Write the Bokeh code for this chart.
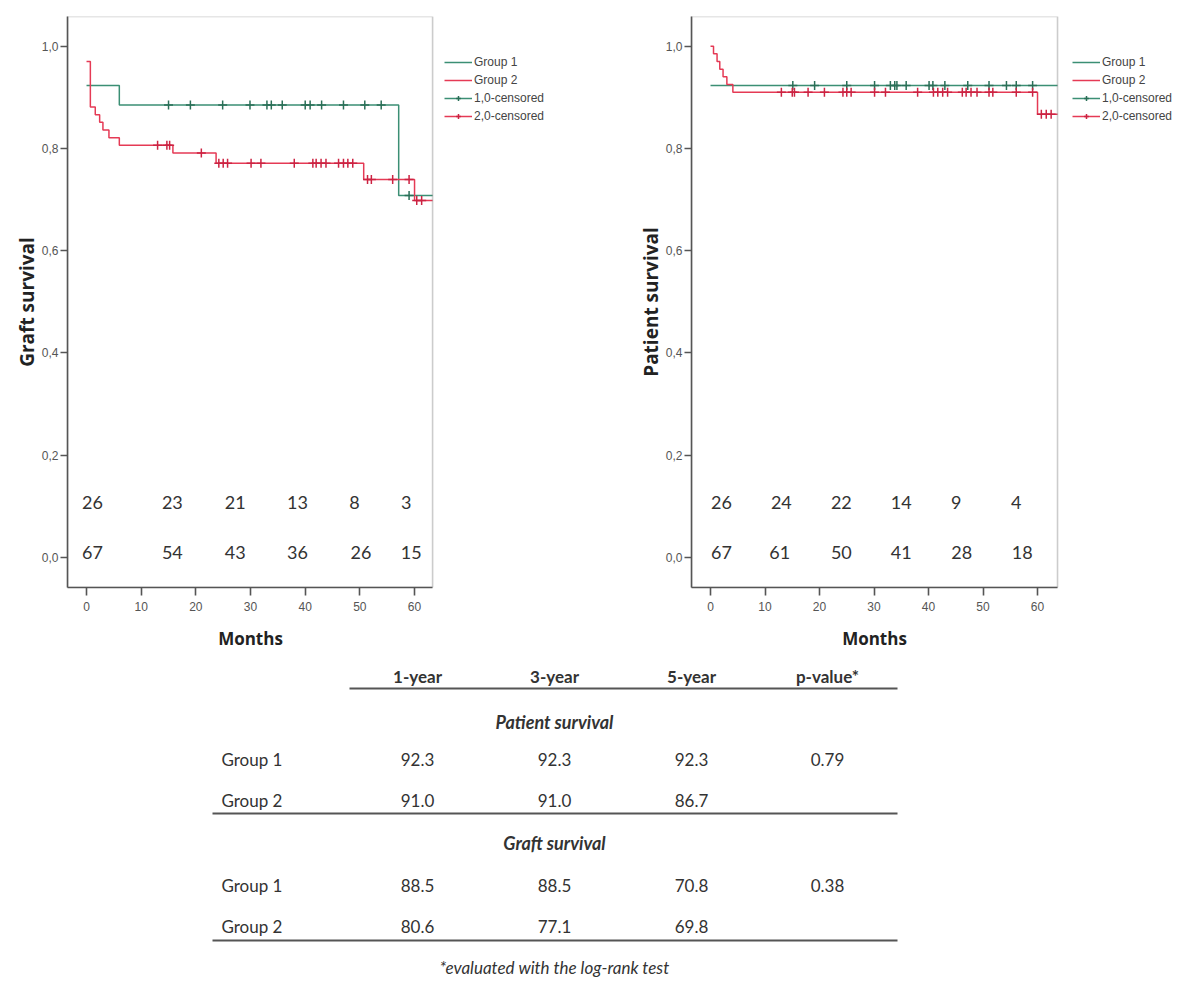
import numpy as np
from bokeh.plotting import figure
from bokeh.layouts import column, row
from bokeh.models import (Range1d, FixedTicker, CustomJSTickFormatter, Legend,
                          LegendItem, BoxAnnotation)
from bokeh.core.properties import value
from bokeh.embed import file_html
from bokeh.resources import INLINE

# ---------------- data ----------------
month_ticks = [0, 10, 20, 30, 40, 50, 60]
surv_ticks = [0.0, 0.2, 0.4, 0.6, 0.8, 1.0]
legend_labels = ["Group 1", "Group 2", "1,0-censored", "2,0-censored"]
x_title = "Months"

# Graft survival (Kaplan-Meier step points: time in months, survival)
graft_g1_t = [0.0, 6.0, 57.1, 64.0]
graft_g1_s = [0.923, 0.885, 0.708, 0.708]
graft_g1_cens = [15.0, 19.0, 24.9, 29.9, 33.0, 33.8, 35.8, 40.0, 40.9, 43.0,
                 47.0, 50.9, 53.9, 59.0]
graft_g2_t = [0.0, 0.7, 1.6, 2.4, 3.0, 4.1, 6.0, 15.8, 23.7, 50.7, 60.0, 64.0]
graft_g2_s = [0.970, 0.881, 0.866, 0.851, 0.836, 0.821, 0.806, 0.791, 0.771,
              0.739, 0.698, 0.698]
graft_g2_cens = [13.0, 14.7, 15.2, 21.0, 24.2, 25.0, 25.8, 30.1, 31.9, 38.0,
                 41.4, 42.0, 42.9, 43.8, 46.1, 47.0, 47.8, 48.7, 51.4, 52.1,
                 56.0, 59.0, 60.4, 61.3]
graft_risk_g1 = [26, 23, 21, 13, 8, 3]
graft_risk_g2 = [67, 54, 43, 36, 26, 15]

# Patient survival
pat_g1_t = [0.0, 64.0]
pat_g1_s = [0.923, 0.923]
pat_g1_cens = [15.1, 19.1, 25.0, 30.1, 33.0, 33.8, 34.2, 35.9, 40.1, 40.8,
               43.0, 47.2, 51.1, 54.3, 56.1, 59.1]
pat_g2_t = [0.0, 0.55, 1.2, 1.7, 2.3, 3.0, 4.1, 60.0, 64.0]
pat_g2_s = [1.0, 0.985, 0.970, 0.955, 0.940, 0.925, 0.910, 0.867, 0.867]
pat_g2_cens = [13.0, 15.0, 15.4, 17.9, 20.9, 24.3, 25.0, 25.8, 30.1, 32.1,
               38.0, 40.9, 41.7, 42.6, 43.5, 46.2, 46.9, 47.8, 48.9, 51.1,
               51.8, 56.1, 59.1, 60.7, 61.6, 62.5]
pat_risk_g1 = [26, 24, 22, 14, 9, 4]
pat_risk_g2 = [67, 61, 50, 41, 28, 18]

# Table
table_cols = ["1-year", "3-year", "5-year", "p-value*"]
row_labels = ["Group 1", "Group 2"]
patient_g1 = [92.3, 92.3, 92.3]
patient_g2 = [91.0, 91.0, 86.7]
patient_p = 0.79
graft_g1 = [88.5, 88.5, 70.8]
graft_g2 = [80.6, 77.1, 69.8]
graft_p = 0.38

# ---------------- styles ----------------
GREEN = "#3b8f74"
GREEN_M = "#2a6f57"
RED = "#e53a55"
RED_M = "#cc2342"
AX = "#555555"
TXT = "#333333"
Y0, Y1 = -0.059, 1.058
TOP_H = 620


def surv_at(ts, ss, c):
    idx = np.searchsorted(np.array(ts), np.array(c), side="right") - 1
    return list(np.array(ss)[idx])


def km_plot(width, bl, x0, x1, px_per_month, ylabel, g1t, g1s, g1c,
            g2t, g2s, g2c, r1, r2, pos1, pos2, leg_x):
    frame_w = width - bl
    xr_end = x0 + frame_w / px_per_month
    p = figure(width=width, height=TOP_H, x_range=Range1d(x0, xr_end),
               y_range=Range1d(Y0, Y1), output_backend="svg",
               toolbar_location=None, title=None,
               min_border_left=bl, min_border_right=0,
               min_border_top=16, min_border_bottom=TOP_H - 16 - 571)
    p.grid.visible = False
    p.outline_line_color = None
    p.background_fill_color = "white"
    p.border_fill_color = "white"

    p.add_layout(BoxAnnotation(left=x0, right=x1, bottom=Y0, top=Y1,
                               fill_color=None, fill_alpha=0,
                               line_color=AX, line_width=1.6))

    for ax in (p.xaxis[0], p.yaxis[0]):
        ax.axis_line_color = AX
        ax.axis_line_width = 1.6
        ax.major_tick_line_color = AX
        ax.major_tick_line_width = 1.6
        ax.minor_tick_line_color = None
        ax.major_tick_in = 0
        ax.major_label_text_font = "Liberation Sans"
        ax.major_label_text_font_size = "12px"
        ax.major_label_text_color = "#555555"

    p.xaxis.bounds = (x0, x1)
    p.xaxis.ticker = FixedTicker(ticks=month_ticks)
    p.xaxis.major_tick_out = 8
    p.xaxis.major_label_standoff = 6

    p.yaxis.ticker = FixedTicker(ticks=surv_ticks)
    p.yaxis.formatter = CustomJSTickFormatter(
        code="return tick.toFixed(1).replace('.', ',');")
    p.yaxis.major_tick_out = 7
    p.yaxis.major_label_standoff = 2
    p.yaxis.axis_label = ylabel
    p.yaxis.axis_label_text_font = "Open Sans"
    p.yaxis.axis_label_text_font_style = "bold"
    p.yaxis.axis_label_text_font_size = "19px"
    p.yaxis.axis_label_text_color = "#222222"
    p.yaxis.axis_label_standoff = -1

    def clip_t(ts):
        return [min(t, x1) for t in ts]

    l1 = p.step(clip_t(g1t), g1s, mode="after", line_color=GREEN, line_width=1.5)
    l2 = p.step(clip_t(g2t), g2s, mode="after", line_color=RED, line_width=1.5)
    c1 = p.scatter(g1c, surv_at(g1t, g1s, g1c), marker="cross", size=9,
                   line_color=GREEN_M, line_width=1.5)
    c2 = p.scatter(g2c, surv_at(g2t, g2s, g2c), marker="cross", size=9,
                   line_color=RED_M, line_width=1.5)

    p.text(x=pos1, y=[0.108] * len(r1), text=[str(v) for v in r1],
           text_align="center", text_baseline="middle",
           text_font=value("Lato"), text_font_size="18px", text_color=TXT)
    p.text(x=pos2, y=[0.010] * len(r2), text=[str(v) for v in r2],
           text_align="center", text_baseline="middle",
           text_font=value("Lato"), text_font_size="18px", text_color=TXT)

    legend = Legend(items=[
        LegendItem(label=legend_labels[0], renderers=[l1]),
        LegendItem(label=legend_labels[1], renderers=[l2]),
        LegendItem(label=legend_labels[2], renderers=[l1, c1]),
        LegendItem(label=legend_labels[3], renderers=[l2, c2]),
    ], location=(leg_x, 464))
    legend.label_text_font = "Liberation Sans"
    legend.label_text_font_size = "12px"
    legend.label_text_color = "#444444"
    legend.glyph_width = 28
    legend.glyph_height = 12
    legend.label_height = 12
    legend.label_standoff = 2
    legend.spacing = 4
    legend.padding = 0
    legend.margin = 0
    legend.border_line_alpha = 0
    legend.background_fill_alpha = 0
    p.add_layout(legend)
    return p


p1 = km_plot(629, 67, -3.48, 63.3, 5.467, "Graft survival",
             graft_g1_t, graft_g1_s, graft_g1_cens,
             graft_g2_t, graft_g2_s, graft_g2_cens,
             graft_risk_g1, graft_risk_g2,
             [1.1, 15.7, 27.2, 38.6, 49.0, 58.5],
             [1.1, 15.7, 27.2, 38.6, 50.2, 59.4], 377)

p2 = km_plot(562, 62, -3.49, 63.67, 5.45, "Patient survival",
             pat_g1_t, pat_g1_s, pat_g1_cens,
             pat_g2_t, pat_g2_s, pat_g2_cens,
             pat_risk_g1, pat_risk_g2,
             [2.0, 13.0, 24.0, 35.0, 45.1, 56.1],
             [2.0, 12.7, 24.0, 35.0, 46.1, 57.2], 381)

# ---------------- table (and the x-axis titles above it) ----------------
p3 = figure(width=1184, height=996 - (TOP_H + 1), x_range=Range1d(1, 1185),
            y_range=Range1d(996, TOP_H + 1), output_backend="svg",
            toolbar_location=None, title=None, min_border=0)
p3.axis.visible = False
p3.grid.visible = False
p3.outline_line_color = None

p3.text(x=[251, 875], y=[639, 639], text=[x_title, x_title],
        text_align="center", text_baseline="middle",
        text_font=value("Open Sans"), text_font_style="bold",
        text_font_size="17px", text_color="#222222")

col_x = [418, 555, 692, 828]
label_x = 222
center_x = 555

def txt(x, y, t, style="normal", size="17px", align="center"):
    p3.text(x=x, y=y, text=t, text_align=align, text_baseline="middle",
            text_font=value("Lato"), text_font_size=size,
            text_font_style=style, text_color=TXT)

txt(col_x, [677] * 4, table_cols, style="bold", size="17px")
p3.line([350, 898], [689, 689], line_color=AX, line_width=2)

sections = [("Patient survival", patient_g1, patient_g2, patient_p, 722, 760, 801, 814),
            ("Graft survival", graft_g1, graft_g2, graft_p, 843, 886, 927, 941)]
for title, g1, g2, pv, yt, y1, y2, yl in sections:
    txt([center_x], [yt], [title], style="bold italic", size="18px")
    txt([label_x, label_x], [y1, y2], row_labels, align="left")
    txt(col_x, [y1] * 4, [f"{v:.1f}" for v in g1] + [f"{pv:.2f}"])
    txt(col_x[:3], [y2] * 3, [f"{v:.1f}" for v in g2])
    p3.line([213, 898], [yl, yl], line_color=AX, line_width=2)

txt([center_x], [968], ["*evaluated with the log-rank test"], style="italic", size="17px")

layout = column(row(p1, p2), p3)
open("out.html", "w").write(file_html(layout, INLINE))
